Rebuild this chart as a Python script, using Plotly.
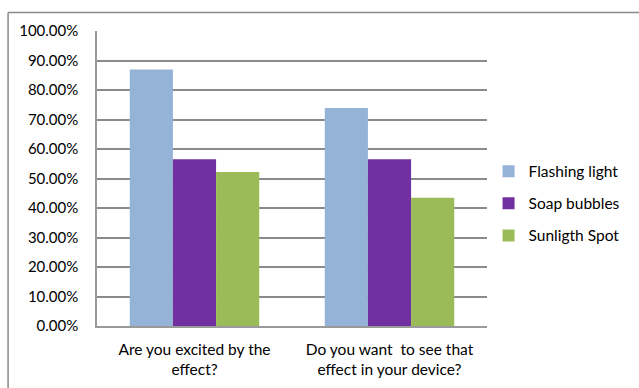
import plotly.graph_objects as go

categories = ["Are you excited by the<br>effect?", "Do you want  to see that<br>effect in your device?"]
series_names = ["Flashing light", "Soap bubbles", "Sunligth Spot"]
flashing_light = [0.8696, 0.7391]
soap_bubbles = [0.5652, 0.5652]
sunlight_spot = [0.5217, 0.4348]
colors = ["#95B3D7", "#7030A0", "#9BBB59"]
y_ticks = [0, 0.1, 0.2, 0.3, 0.4, 0.5, 0.6, 0.7, 0.8, 0.9, 1.0]

FONT = "Lato"

fig = go.Figure()
for name, vals, col in zip(series_names, [flashing_light, soap_bubbles, sunlight_spot], colors):
    fig.add_trace(go.Bar(x=categories, y=vals, name=name, marker=dict(color=col, line=dict(width=0)),
                         legendgroup=name))

fig.update_layout(
    width=639, height=388,
    margin=dict(l=97, r=152, t=31, b=62, autoexpand=False),
    paper_bgcolor="white", plot_bgcolor="white",
    barmode="group", bargap=0.336, bargroupgap=0,
    font=dict(family=FONT, size=15, color="#000000"),
    showlegend=True,
    legend=dict(x=1.004, y=0.415, xanchor="left", yanchor="middle", tracegroupgap=9,
                font=dict(family=FONT, size=15.5), bgcolor="rgba(0,0,0,0)"),
    xaxis=dict(showgrid=False, showline=True, linecolor="#9a9a9a", linewidth=2,
               ticks="", tickfont=dict(size=15.5), ticklabelstandoff=8, fixedrange=True),
    yaxis=dict(range=[0, 1.0], tickvals=y_ticks, tickformat=".2%", showgrid=True,
               gridcolor="#8a8a8a", gridwidth=1.5, showline=True, linecolor="#9a9a9a",
               linewidth=1.5, ticks="", ticklabelstandoff=14, zeroline=False,
               tickfont=dict(size=15), fixedrange=True),
    shapes=[
        dict(type="line", xref="paper", yref="paper", x0=-0.228, x1=1.4, y0=1.063, y1=1.063,
             line=dict(color="#8a8a8a", width=1.5)),
        dict(type="line", xref="paper", yref="paper", x0=-0.228, x1=-0.228, y0=1.063, y1=-0.3,
             line=dict(color="#8a8a8a", width=1.5)),
    ],
)

fig.write_html("out.html")
